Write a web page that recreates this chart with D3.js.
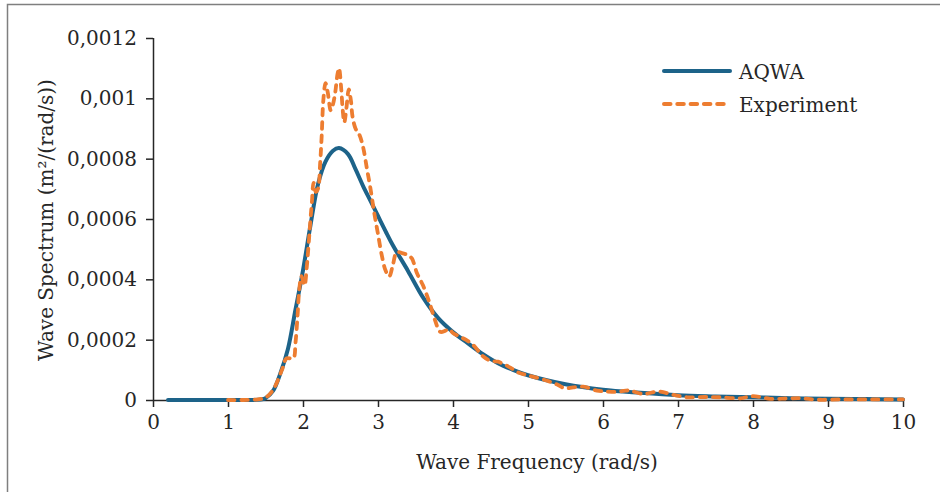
<!DOCTYPE html>
<html lang="en">

<head>
  <meta charset="UTF-8">
  <title>Wave spectrum</title>
  <script src="https://d3js.org/d3.v7.min.js"></script>
  <style>
    body { margin: 0; background: #fff; }
    text { font-family: "DejaVu Serif", serif; font-size: 20px; fill: #262626; }
  </style>
</head>

<body>
  <svg id="chart" width="940" height="492"></svg>
  <script>
    // data
    const aqwaFreq = [0.2, 1.0, 1.3, 1.45, 1.5, 1.6, 1.7, 1.8, 1.9, 2.0, 2.1, 2.2, 2.3, 2.4, 2.48, 2.6, 2.7, 2.8, 2.9, 3.0, 3.1, 3.2, 3.4, 3.6, 3.8, 4.0, 4.2, 4.4, 4.6, 4.8, 5.0, 5.5, 6.0, 6.5, 7.0, 7.5, 8.0, 8.5, 9.0, 9.5, 10];
    const aqwaValues = [0, 0, 0, 0.000002, 0.000006, 0.00003, 0.00009, 0.00017, 0.0003, 0.00043, 0.00058, 0.000715, 0.00079, 0.000826, 0.000835, 0.000815, 0.000765, 0.00071, 0.00066, 0.00061, 0.00056, 0.000512, 0.000428, 0.00034, 0.000272, 0.000225, 0.000188, 0.000152, 0.000122, 0.0001, 0.000082, 0.000052, 0.000034, 0.000024, 0.000016, 0.000012, 0.000009, 0.000006, 0.000004, 0.000003, 0.000002];

    const expFreq = [1.0, 1.2, 1.4, 1.5, 1.6, 1.72, 1.78, 1.87, 1.9, 1.93, 1.95, 1.98, 2.02, 2.05, 2.07, 2.1, 2.12, 2.14, 2.17, 2.2, 2.23, 2.25, 2.27, 2.3, 2.33, 2.37, 2.4, 2.43, 2.46, 2.48, 2.51, 2.53, 2.55, 2.58, 2.61, 2.64, 2.66, 2.7, 2.75, 2.8, 2.85, 2.9, 2.95, 3.0, 3.05, 3.1, 3.15, 3.2, 3.25, 3.32, 3.4, 3.45, 3.52, 3.6, 3.69, 3.76, 3.83, 3.9, 3.95, 4.0, 4.09, 4.17, 4.27, 4.4, 4.5, 4.6, 4.7, 4.78, 4.88, 4.98, 5.1, 5.29, 5.4, 5.49, 5.6, 5.74, 5.92, 6.05, 6.18, 6.3, 6.36, 6.54, 6.74, 6.94, 7.12, 7.35, 7.56, 7.83, 8.0, 8.23, 8.45, 8.63, 8.86, 9.2, 9.6, 10];
    const expValues = [0, 0, 0.000002, 0.000008, 0.000033, 0.0001, 0.000138, 0.000138, 0.00019, 0.00029, 0.000365, 0.00041, 0.00038, 0.00044, 0.0005, 0.0006, 0.00066, 0.00072, 0.00069, 0.0007, 0.00079, 0.00088, 0.00099, 0.00105, 0.00102, 0.00096, 0.00098, 0.00102, 0.00108, 0.0011, 0.00103, 0.00096, 0.00092, 0.00097, 0.00103, 0.00099, 0.00094, 0.0009, 0.00088, 0.00084, 0.00077, 0.0007, 0.00062, 0.00055, 0.00048, 0.00043, 0.00041, 0.00045, 0.00049, 0.000487, 0.00048, 0.00047, 0.00042, 0.00038, 0.00032, 0.000265, 0.000226, 0.00023, 0.000235, 0.000222, 0.00021, 0.0002, 0.000182, 0.000145, 0.00013, 0.000127, 0.000116, 0.000105, 0.00009, 0.000083, 0.000075, 0.000061, 0.00005, 0.000039, 0.000042, 0.000044, 0.000031, 0.000028, 0.000027, 0.000031, 0.000031, 0.00002, 0.000028, 0.000017, 0.000009, 0.00001, 0.000009, 0.0000056, 0.000013, 0.000004, 0.000005, 0.000006, 0.000001, 0.000002, 0.000002, 0.000002];

    const xTicks = [0, 1, 2, 3, 4, 5, 6, 7, 8, 9, 10];
    const yTicks = [0, 0.0002, 0.0004, 0.0006, 0.0008, 0.001, 0.0012];
    const yTickLabels = ['0', '0,0002', '0,0004', '0,0006', '0,0008', '0,001', '0,0012'];
    const seriesNames = ['AQWA', 'Experiment'];

    const svg = d3.select('svg#chart');
    const margins = { top: 38, right: 37, bottom: 92, left: 153 };
    const chartWidth = 940 - margins.left - margins.right;
    const chartHeight = 492 - margins.top - margins.bottom;

    // outer frame (cut off at right and bottom)
    svg.append('path')
      .attr('d', 'M7.5,492 L7.5,4.5 L940,4.5')
      .attr('fill', 'none')
      .attr('stroke', '#7f7f7f')
      .attr('stroke-width', 1.5);

    const chartArea = svg.append('g')
      .attr('transform', `translate(${margins.left},${margins.top})`);

    const xScale = d3.scaleLinear().domain([0, 10]).range([0, chartWidth]);
    const yScale = d3.scaleLinear().domain([0, 0.0012]).range([chartHeight, 0]);

    // axes
    const xAxis = d3.axisBottom(xScale).tickValues(xTicks).tickSize(7).tickPadding(8);
    const yAxis = d3.axisLeft(yScale).tickValues(yTicks).tickSize(7).tickPadding(9)
      .tickFormat((d, i) => yTickLabels[i]);

    const gx = chartArea.append('g').attr('transform', `translate(0,${chartHeight})`).call(xAxis);
    const gy = chartArea.append('g').call(yAxis);
    [gx, gy].forEach(g => {
      g.select('.domain').attr('stroke', '#262626').attr('stroke-width', 1.5);
      g.selectAll('.tick line').attr('stroke', '#262626').attr('stroke-width', 1.5);
      g.selectAll('text').attr('font-family', null).attr('font-size', null).attr('fill', '#262626');
    });
    gy.select('.domain').attr('d', `M0.5,0V${chartHeight}`);
    gx.select('.domain').attr('d', `M0,0.5H${chartWidth}`);

    // axis titles
    svg.append('text')
      .attr('x', 537)
      .attr('y', 469)
      .attr('text-anchor', 'middle')
      .text('Wave Frequency (rad/s)');
    svg.append('text')
      .attr('transform', 'translate(53,220) rotate(-90)')
      .attr('text-anchor', 'middle')
      .text('Wave Spectrum (m²/(rad/s))');

    const line = d3.line()
      .x(d => xScale(d[0]))
      .y(d => yScale(d[1]))
      .curve(d3.curveCatmullRom.alpha(0.5));

    const aqwaData = aqwaFreq.map((f, i) => [f, aqwaValues[i]]);
    const expData = expFreq.map((f, i) => [f, expValues[i]]);

    chartArea.append('path')
      .datum(aqwaData)
      .attr('d', line)
      .attr('fill', 'none')
      .attr('stroke', '#1d6389')
      .attr('stroke-width', 4)
      .attr('stroke-linecap', 'round');

    chartArea.append('path')
      .datum(expData)
      .attr('d', line)
      .attr('fill', 'none')
      .attr('stroke', '#ed7d31')
      .attr('stroke-width', 3.8)
      .attr('stroke-linecap', 'round')
      .attr('stroke-dasharray', '6.5,6.8');

    // legend
    const legend = svg.append('g');
    const legendStyles = [
      { color: '#1d6389', dash: null, y: 71 },
      { color: '#ed7d31', dash: '6.5,6.8', y: 104 }
    ];
    seriesNames.forEach((name, i) => {
      const s = legendStyles[i];
      legend.append('line')
        .attr('x1', 664).attr('x2', 730)
        .attr('y1', s.y).attr('y2', s.y)
        .attr('stroke', s.color)
        .attr('stroke-width', 4)
        .attr('stroke-linecap', 'round')
        .attr('stroke-dasharray', s.dash);
      legend.append('text')
        .attr('x', 739)
        .attr('y', s.y + 8)
        .text(name);
    });
  </script>
</body>

</html>
